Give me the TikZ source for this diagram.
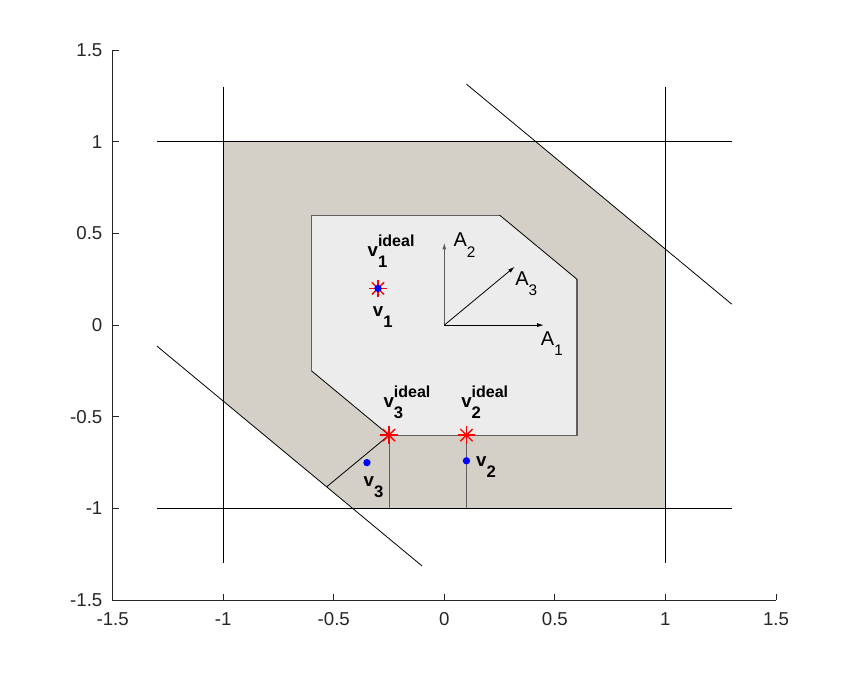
\documentclass[tikz,border=0pt]{standalone}
\usepackage{fontspec}
\setmainfont{Liberation Sans}
\usepackage{tikz}
\usetikzlibrary{arrows.meta,calc,positioning}
\definecolor{outergray}{RGB}{212,208,200}
\definecolor{innergray}{RGB}{236,236,236}
\definecolor{edgegray}{RGB}{95,95,95}
\definecolor{axisgray}{RGB}{38,38,38}
\newcommand{\Alab}[1]{{\fontsize{15}{15}\selectfont A}\raisebox{-8pt}{\fontsize{11.5}{11.5}\selectfont #1}}
\newcommand{\vlab}[2]{\textbf{v\rlap{\raisebox{-8pt}{\fontsize{12.5}{12.5}\selectfont #1}}\raisebox{7.5pt}{\fontsize{12}{12}\selectfont #2}}}
\newcommand{\vsub}[1]{\textbf{v\raisebox{-8pt}{\fontsize{12.5}{12.5}\selectfont #1}}}
\tikzset{
  bnd/.style={black,line width=0.6pt},
  edge/.style={edgegray,line width=0.8pt},
  lbl/.style={anchor=base west,inner sep=0pt,font=\fontsize{14}{14}\selectfont},
  ticklbl/.style={inner sep=0pt,font=\fontsize{14}{14}\selectfont,text=axisgray},
  ideal/.style={red,line width=1pt},
  vec/.style={-{Latex[length=5pt,width=3pt]},line width=0.6pt},
}

\begin{document}
\begin{tikzpicture}[x=165.8pt,y=137.5pt]
          \useasboundingbox (-2.0095,-1.904) rectangle (1.871,1.773);
          % regions
          \fill[outergray] (-1,1) -- ({sqrt(2)-1},1) -- (1,{sqrt(2)-1}) -- (1,-1) -- ({1-sqrt(2)},-1) -- (-1,{1-sqrt(2)}) -- cycle;
          \fill[innergray] (-0.6,0.6) -- (0.25,0.6) -- (0.6,0.25) -- (0.6,-0.6) -- (-0.25,-0.6) -- (-0.6,-0.25) -- cycle;
          \coordinate (v1i) at (-0.3,0.2);
          \coordinate (v2i) at (0.1,-0.6);
          \coordinate (v3i) at (-0.25,-0.6);
          \coordinate (b2) at (0.1,-1);
          \coordinate (b3) at (-0.25,-1);
          \coordinate (p3) at ({-0.25-(sqrt(2)-0.85)/2},{-0.6-(sqrt(2)-0.85)/2});
          \draw[edge] (-0.6,-0.25) -- (-0.6,0.6) -- (0.25,0.6);
          \draw[edge] (0.6,0.25) -- (0.6,-0.6) -- (v3i);
          \draw[bnd] (0.25,0.6) -- (0.6,0.25);
          \draw[bnd] (v3i) -- (-0.6,-0.25);
          \draw[edge] (v3i) -- (b3);
          \draw[edge] (v2i) -- (b2);
          \draw[bnd] (v3i) -- (p3);
          % constraint lines
          \draw[bnd] (-1.3,1) -- (1.3,1);
          \draw[bnd] (-1.3,-1) -- (1.3,-1);
          \draw[bnd] (-1,1.3) -- (-1,-1.3);
          \draw[bnd] (1,1.3) -- (1,-1.3);
          \draw[bnd] (0.1,{sqrt(2)-0.1}) -- (1.3,{sqrt(2)-1.3});
          \draw[bnd] (-1.3,{1.3-sqrt(2)}) -- (-0.1,{0.1-sqrt(2)});
          % directions
          \coordinate (O) at (0,0);
          \coordinate (a1) at (0.45,0);
          \coordinate (a2) at (0,0.45);
          \coordinate (a3) at ({0.45/sqrt(2)},{0.45/sqrt(2)});
          \draw[vec] (O) -- (a1);
          \draw[vec,edgegray,line width=0.8pt] (O) -- (a2);
          \draw[vec] (O) -- (a3);
          \node[lbl] (labA1) at (0.436,-0.109) {\Alab{1}};
          \node[lbl] (labA2) at (0.041,0.427) {\Alab{2}};
          \node[lbl] (labA3) at (0.32,0.218) {\Alab{3}};
          % points
          \foreach \p in {v1i,v2i,v3i}
            \foreach \a in {0,45,...,315}
              \draw[ideal] (\p) -- ++(\a:6.5pt);
          \fill[blue] (v1i) circle (2.75pt);
          \fill[blue] (0.1,-0.74) coordinate (v2) circle (2.75pt);
          \fill[blue] (-0.35,-0.75) coordinate (v3) circle (2.75pt);
          \node[lbl] (labv1i) at (-0.348,0.373) {\vlab{1}{ideal}};
          \node[lbl] (labv1) at (-0.324,0.045) {\vsub{1}};
          \node[lbl] (labv3i) at (-0.276,-0.449) {\vlab{3}{ideal}};
          \node[lbl] (labv2i) at (0.0755,-0.449) {\vlab{2}{ideal}};
          \node[lbl] (labv2) at (0.143,-0.773) {\vsub{2}};
          \node[lbl] (labv3) at (-0.366,-0.882) {\vsub{3}};
          % axes
          \draw[axisgray,line width=0.6pt] (-1.5,1.5) -- (-1.5,-1.5) -- (1.5,-1.5);
          \foreach \t [count=\i] in {-1.5,-1,-0.5,0,0.5,1,1.5} {
            \draw[axisgray,line width=0.6pt] (-1.5,\t) -- ++(4.5pt,0);
            \draw[axisgray,line width=0.6pt] (\t,-1.5) -- ++(0,4.5pt);
            \node[ticklbl,anchor=east,xshift=-7.5pt] (yt\i) at (-1.5,\t) {\t};
            \node[ticklbl,anchor=north,yshift=-8.8pt] (xt\i) at (\t,-1.5) {\t};
          }
        \end{tikzpicture}
\end{document}
